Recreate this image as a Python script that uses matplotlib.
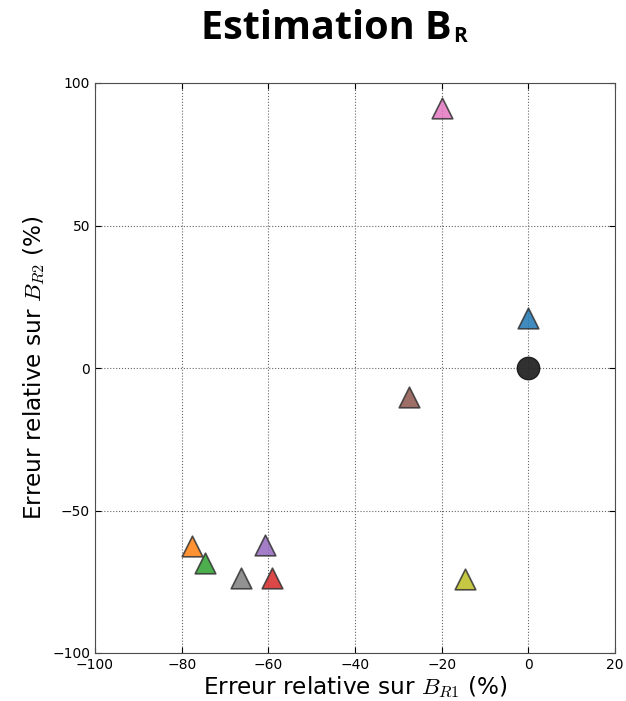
import numpy as np
import matplotlib
matplotlib.use("Agg")
import matplotlib.pyplot as plt

# erreurs relatives (%) sur B_R1 et B_R2
err_r1 = [-0.1, -77.6, -74.6, -59.2, -60.8, -27.5, -19.9, -66.3, -14.6]
err_r2 = [17.5, -62.5, -68.4, -73.7, -62.0, -10.2, 91.2, -73.7, -74.0]
colors = ["tab:blue", "tab:orange", "tab:green", "tab:red", "tab:purple",
          "tab:brown", "tab:pink", "tab:gray", "tab:olive"]
ref_x, ref_y = [0], [0]

W, H = 626, 701
fig = plt.figure(figsize=(W / 100, H / 100), dpi=100)
ax = fig.add_axes([95/W, 48/H, 520/W, 570/H])

ax.grid(True, linestyle=":", color="0.4", linewidth=0.8)
ax.set_axisbelow(True)
for x, y, c in zip(err_r1, err_r2, colors):
    ax.scatter(x, y, marker="^", s=220, c=c, alpha=0.85,
               edgecolors="0.2", linewidths=1.2, zorder=3)
ax.scatter(ref_x, ref_y, marker="o", s=260, c="0.15", alpha=0.95,
           edgecolors="0.1", zorder=3)

ax.set_xlim(-100, 20)
ax.set_ylim(-100, 100)
ax.set_xticks(np.arange(-100, 21, 20))
ax.set_yticks(np.arange(-100, 101, 50))
ax.tick_params(direction="in", top=True, right=True, labelsize=10, length=4)
ax.set_xlabel(r"Erreur relative sur $B_{R1}$ (%)", fontsize=16.7,
              math_fontfamily="cm", labelpad=2)
ax.set_ylabel(r"Erreur relative sur $B_{R2}$ (%)", fontsize=16.7, math_fontfamily="cm")
for s in ax.spines.values():
    s.set_color("0.3")

# titre: "Estimation B" + indice R, centré vers x=334 px
tfam = ["Open Sans", "DejaVu Sans"]
t1 = fig.text(0, 1 - 39/H, "Estimation B", ha="left", va="baseline",
              fontsize=28.5, fontweight="bold", family=tfam)
t2 = fig.text(0, 1 - 42/H, "R", ha="left", va="baseline",
              fontsize=15, fontweight="bold", family=tfam)
fig.canvas.draw()
w1 = t1.get_window_extent().width
w2 = t2.get_window_extent().width
x0 = 334 - (w1 + 2 + w2) / 2
t1.set_x(x0 / W)
t2.set_x((x0 + w1 + 2) / W)

fig.savefig("out.png", dpi=100)
